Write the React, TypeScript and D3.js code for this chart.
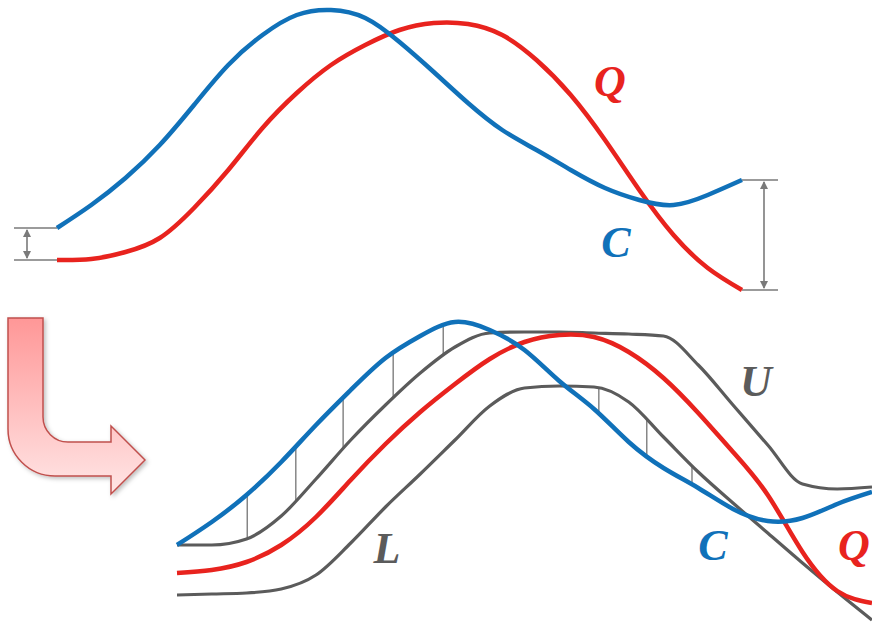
import React, { useEffect, useRef } from "react";
import * as d3 from "d3";

// time grid (percent of series length)
const T = [0, 5, 10, 15, 20, 25, 30, 35, 40, 45, 50, 55, 60, 65, 70, 75, 80, 85, 90, 95, 100];

// top panel: candidate C and query Q
const topC = [72, 95, 122, 155, 195, 235, 265, 285, 290, 282, 258, 228, 197, 170, 150, 130, 112, 100, 95, 105, 120];
const topQ = [40, 41, 48, 62, 92, 130, 172, 207, 235, 255, 270, 277, 276, 265, 240, 205, 160, 110, 65, 32, 10];

// bottom panel: C, Q and the envelope U / L around Q
const botC = [85, 108, 135, 168, 205, 240, 272, 294, 308, 300, 280, 249, 221, 188, 162, 142, 121, 109, 112, 126, 138];
const botQ = [57, 60, 68, 85, 113, 150, 186, 218, 246, 271, 288, 295, 293, 278, 252, 217, 178, 135, 78, 39, 27];
const botU = [85, 85, 91, 114, 151, 190, 225, 257, 283, 297, 298, 298, 297, 296, 294, 265, 225, 185, 146, 141, 143];
const botL = [35, 36, 37, 41, 55, 87, 123, 156, 190, 224, 242, 244, 243, 228, 193, 158, 127, 97, 67, 38, 10];

// positions (t) of the hatch lines between C and the envelope
const hatchUpper = [10.1, 17.1, 23.9, 31.1, 38.3];
const hatchLower = [60.7, 67.6, 74.1];

const BLUE = "#1071b9";
const RED = "#e8231e";
const GRAY = "#5b5b5b";
const MGRAY = "#7a7a7a";
const FONT = "'Liberation Serif', 'DejaVu Serif', serif";

export default function App() {
  const ref = useRef<SVGSVGElement>(null);

  useEffect(() => {
    const svg = d3.select(ref.current);
    svg.selectAll("*").remove();

    const defs = svg.append("defs");
    const grad = defs.append("linearGradient").attr("id", "arrowGrad").attr("x1", 0).attr("y1", 0).attr("x2", 0).attr("y2", 1);
    grad.append("stop").attr("offset", "0%").attr("stop-color", "#ff9797");
    grad.append("stop").attr("offset", "100%").attr("stop-color", "#ffe6e6");
    const f = defs.append("filter").attr("id", "shadow").attr("x", "-20%").attr("y", "-20%").attr("width", "150%").attr("height", "150%");
    f.append("feDropShadow").attr("dx", 2).attr("dy", 2).attr("stdDeviation", 2).attr("flood-color", "#000").attr("flood-opacity", 0.25);

    const topX = d3.scaleLinear().domain([0, 100]).range([57, 742]);
    const topY = d3.scaleLinear().domain([0, 300]).range([300, 0]);
    const botX = d3.scaleLinear().domain([0, 100]).range([177, 872]);
    const botY = d3.scaleLinear().domain([0, 330]).range([630, 300]);

    const mkLine = (xs: any, ys: any, curve: any) =>
      d3.line<number>().x((_, i) => xs(T[i])).y((d) => ys(d)).curve(curve);

    // ---- measurement arrows (top)
    const meas = svg.append("g").attr("stroke", MGRAY).attr("stroke-width", 1.6).attr("fill", "none");
    const arrowV = (x: number, y1: number, y2: number) => {
      const h = 8, w = 4;
      meas.append("line").attr("x1", x).attr("x2", x).attr("y1", y1 + 2).attr("y2", y2 - 2);
      svg.append("path").attr("fill", MGRAY)
        .attr("d", `M${x},${y1 + 1}L${x - w},${y1 + 1 + h}L${x + w},${y1 + 1 + h}Z`);
      svg.append("path").attr("fill", MGRAY)
        .attr("d", `M${x},${y2 - 1}L${x - w},${y2 - 1 - h}L${x + w},${y2 - 1 - h}Z`);
    };
    {
      const x0 = topX(0);
      const yc = topY(topC[0]), yq = topY(topQ[0]);
      meas.append("line").attr("x1", x0 - 43).attr("x2", x0).attr("y1", yc).attr("y2", yc);
      meas.append("line").attr("x1", x0 - 43).attr("x2", x0).attr("y1", yq).attr("y2", yq);
      arrowV(x0 - 30, yc, yq);
      const x1 = topX(100);
      const yc2 = topY(topC[topC.length - 1]), yq2 = topY(topQ[topQ.length - 1]);
      meas.append("line").attr("x1", x1).attr("x2", x1 + 36).attr("y1", yc2).attr("y2", yc2);
      meas.append("line").attr("x1", x1).attr("x2", x1 + 36).attr("y1", yq2).attr("y2", yq2);
      arrowV(x1 + 22, yc2, yq2);
    }

    // ---- top curves
    svg.append("path").attr("d", mkLine(topX, topY, d3.curveNatural)(topQ)).attr("fill", "none").attr("stroke", RED).attr("stroke-width", 4.5);
    svg.append("path").attr("d", mkLine(topX, topY, d3.curveNatural)(topC)).attr("fill", "none").attr("stroke", BLUE).attr("stroke-width", 4.5);

    // ---- bend arrow
    const ap = d3.path();
    ap.moveTo(8, 318);
    ap.lineTo(43, 318);
    ap.lineTo(43, 417);
    ap.arcTo(43, 442, 68, 442, 25);
    ap.lineTo(111, 442);
    ap.lineTo(111, 426);
    ap.lineTo(145, 460);
    ap.lineTo(111, 494);
    ap.lineTo(111, 476);
    ap.lineTo(55, 476);
    ap.arcTo(8, 476, 8, 429, 47);
    ap.closePath();
    svg.append("path").attr("d", ap.toString()).attr("fill", "url(#arrowGrad)").attr("stroke", "#c0504d").attr("stroke-width", 1.5).attr("filter", "url(#shadow)");

    // ---- bottom curves
    const pU = svg.append("path").attr("d", mkLine(botX, botY, d3.curveMonotoneX)(botU)).attr("fill", "none").attr("stroke", GRAY).attr("stroke-width", 3.2);
    const pL = svg.append("path").attr("d", mkLine(botX, botY, d3.curveMonotoneX)(botL)).attr("fill", "none").attr("stroke", GRAY).attr("stroke-width", 3.2);
    svg.append("path").attr("d", mkLine(botX, botY, d3.curveNatural)(botQ)).attr("fill", "none").attr("stroke", RED).attr("stroke-width", 4.5);
    const pC = svg.append("path").attr("d", mkLine(botX, botY, d3.curveNatural)(botC)).attr("fill", "none").attr("stroke", BLUE).attr("stroke-width", 4.5);

    const yAt = (p: SVGPathElement, x: number) => {
      const total = p.getTotalLength();
      let lo = 0, hi = total;
      for (let k = 0; k < 40; k++) {
        const mid = (lo + hi) / 2;
        if (p.getPointAtLength(mid).x < x) lo = mid; else hi = mid;
      }
      return p.getPointAtLength((lo + hi) / 2).y;
    };

    const hatch = svg.insert("g", "path").attr("stroke", GRAY).attr("stroke-width", 1.1);
    const cNode = pC.node() as SVGPathElement;
    hatchUpper.forEach((t) => {
      const x = botX(t);
      hatch.append("line").attr("x1", x).attr("x2", x).attr("y1", yAt(cNode, x)).attr("y2", yAt(pU.node() as SVGPathElement, x));
    });
    hatchLower.forEach((t) => {
      const x = botX(t);
      hatch.append("line").attr("x1", x).attr("x2", x).attr("y1", yAt(cNode, x)).attr("y2", yAt(pL.node() as SVGPathElement, x));
    });

    // ---- labels
    const label = (txt: string, x: number, y: number, color: string) =>
      svg.append("text").text(txt).attr("x", x).attr("y", y).attr("fill", color)
        .attr("font-family", FONT).attr("font-weight", "bold").attr("font-style", "italic")
        .attr("font-size", 44).attr("text-anchor", "middle");
    label("Q", 610, 96, RED);
    label("C", 616, 257, BLUE);
    label("L", 387, 563, GRAY);
    label("U", 756, 396, GRAY);
    label("C", 713, 560, BLUE);
    label("Q", 854, 560, RED);
  }, []);

  return (
    <div style={{ position: "fixed", left: 0, top: 0 }}>
      <svg ref={ref} width={872} height={628} style={{ display: "block", background: "#fff" }} />
    </div>
  );
}
